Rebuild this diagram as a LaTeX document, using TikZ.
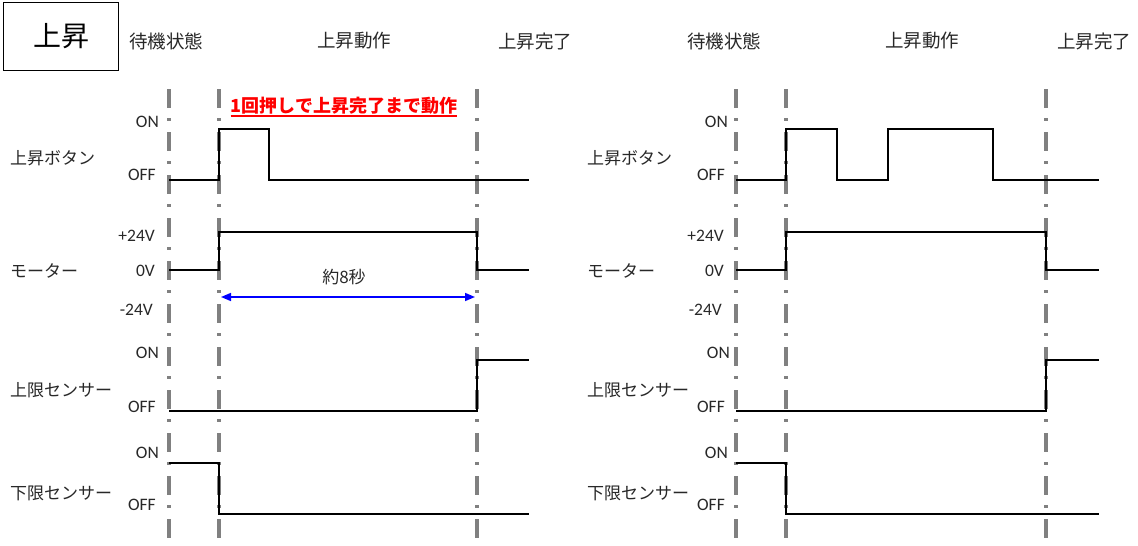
\documentclass[tikz,border=0pt]{standalone}
\usepackage{fontspec}
\setmainfont{Carlito}
\newfontfamily\jp{Noto Sans CJK JP}
\usetikzlibrary{arrows.meta}
\definecolor{guidegray}{RGB}{128,128,128}
\definecolor{txt}{RGB}{40,40,40}
\tikzset{
  guide/.style={draw=guidegray, line width=3.2pt, dash pattern=on 19pt off 10pt on 3pt off 11pt},
  sig/.style={draw=black, line width=2.8pt, line join=miter},
  lvl/.style={font=\fontsize{17.5}{18}\selectfont, text=txt, anchor=east, inner sep=0pt},
  lab/.style={font=\jp\fontsize{17}{18}\selectfont, text=txt, anchor=west, inner sep=0pt},
  hdr/.style={font=\jp\fontsize{18.5}{19}\selectfont, text=txt, inner sep=0pt},
  dur/.style={draw=blue, line width=1.6pt, {Triangle[length=10pt,width=8pt]}-{Triangle[length=10pt,width=8pt]}},
}
\begin{document}
\begin{tikzpicture}[x=1pt,y=-1pt]
\useasboundingbox (0,0) rectangle (1138,546);
\fill[white] (0,0) rectangle (1138,546);

% title box
\node[draw=black, line width=1.4pt, minimum width=115pt, minimum height=68pt, inner sep=0pt,
      font=\jp\fontsize{28}{30}\selectfont] (title) at (61,36.5) {上昇};

% headers
\node[hdr] (hL1) at (166,41) {待機状態};
\node[hdr] (hL2) at (354,41) {上昇動作};
\node[hdr] (hL3) at (535,41) {上昇完了};
\node[hdr] (hR1) at (724,41) {待機状態};
\node[hdr] (hR2) at (922,41) {上昇動作};
\node[hdr] (hR3) at (1094,41) {上昇完了};

% guide lines
\foreach \gx in {169,219,477,736,786,1046}
  \draw[guide] (\gx,89) -- (\gx,546);

% ---------- left panel ----------
\node[font=\jp\bfseries\fontsize{18}{19}\selectfont, text=red, inner sep=0pt] (note) at (344,106) {1回押しで上昇完了まで動作};
\draw[red, line width=1.8pt] ([yshift=-1pt]note.south west) -- ([yshift=-1pt]note.south east);

\node[lab] (lbtnL) at (10,158) {上昇ボタン};
\node[lab] (lmotL) at (10,271) {モーター};
\node[lab] (lupL)  at (10,390) {上限センサー};
\node[lab] (lloL)  at (10,493) {下限センサー};

\node[lvl] (bonL)  at (159,122) {ON};
\node[lvl] (boffL) at (156,175) {OFF};
\node[lvl] (mpL)   at (155,236) {+24V};
\node[lvl] (mzL)   at (155,271) {0V};
\node[lvl] (mnL)   at (153,310) {-24V};
\node[lvl] (uonL)  at (159,353) {ON};
\node[lvl] (uoffL) at (156,407) {OFF};
\node[lvl] (donL)  at (159,453) {ON};
\node[lvl] (doffL) at (156,505) {OFF};

\draw[sig] (169,180) -- (219,180) -- (219,129) -- (269,129) -- (269,180) -- (529,180);
\draw[sig] (169,270) -- (219,270) -- (219,232) -- (477,232) -- (477,270) -- (529,270);
\draw[sig] (169,411) -- (477,411) -- (477,360) -- (529,360);
\draw[sig] (169,463) -- (219,463) -- (219,514) -- (529,514);

\coordinate (tA) at (221,297);
\coordinate (tB) at (475,297);
\draw[dur] (tA) -- (tB);
\node[font=\jp\fontsize{17}{18}\selectfont, text=txt, inner sep=0pt] (durlbl) at (344,277) {約8秒};

% ---------- right panel ----------
\node[lab] (lbtnR) at (587,158) {上昇ボタン};
\node[lab] (lmotR) at (587,271) {モーター};
\node[lab] (lupR)  at (587,390) {上限センサー};
\node[lab] (lloR)  at (587,493) {下限センサー};

\node[lvl] (bonR)  at (728,122) {ON};
\node[lvl] (boffR) at (725,175) {OFF};
\node[lvl] (mpR)   at (724,236) {+24V};
\node[lvl] (mzR)   at (724,271) {0V};
\node[lvl] (mnR)   at (722,310) {-24V};
\node[lvl] (uonR)  at (730,353) {ON};
\node[lvl] (uoffR) at (725,407) {OFF};
\node[lvl] (donR)  at (728,453) {ON};
\node[lvl] (doffR) at (725,505) {OFF};

\draw[sig] (736,180) -- (786,180) -- (786,129) -- (837,129) -- (837,180) -- (888,180) -- (888,129) -- (993,129) -- (993,180) -- (1099,180);
\draw[sig] (736,270) -- (786,270) -- (786,232) -- (1046,232) -- (1046,270) -- (1099,270);
\draw[sig] (736,411) -- (1046,411) -- (1046,360) -- (1099,360);
\draw[sig] (736,463) -- (786,463) -- (786,514) -- (1099,514);
\end{tikzpicture}
\end{document}
